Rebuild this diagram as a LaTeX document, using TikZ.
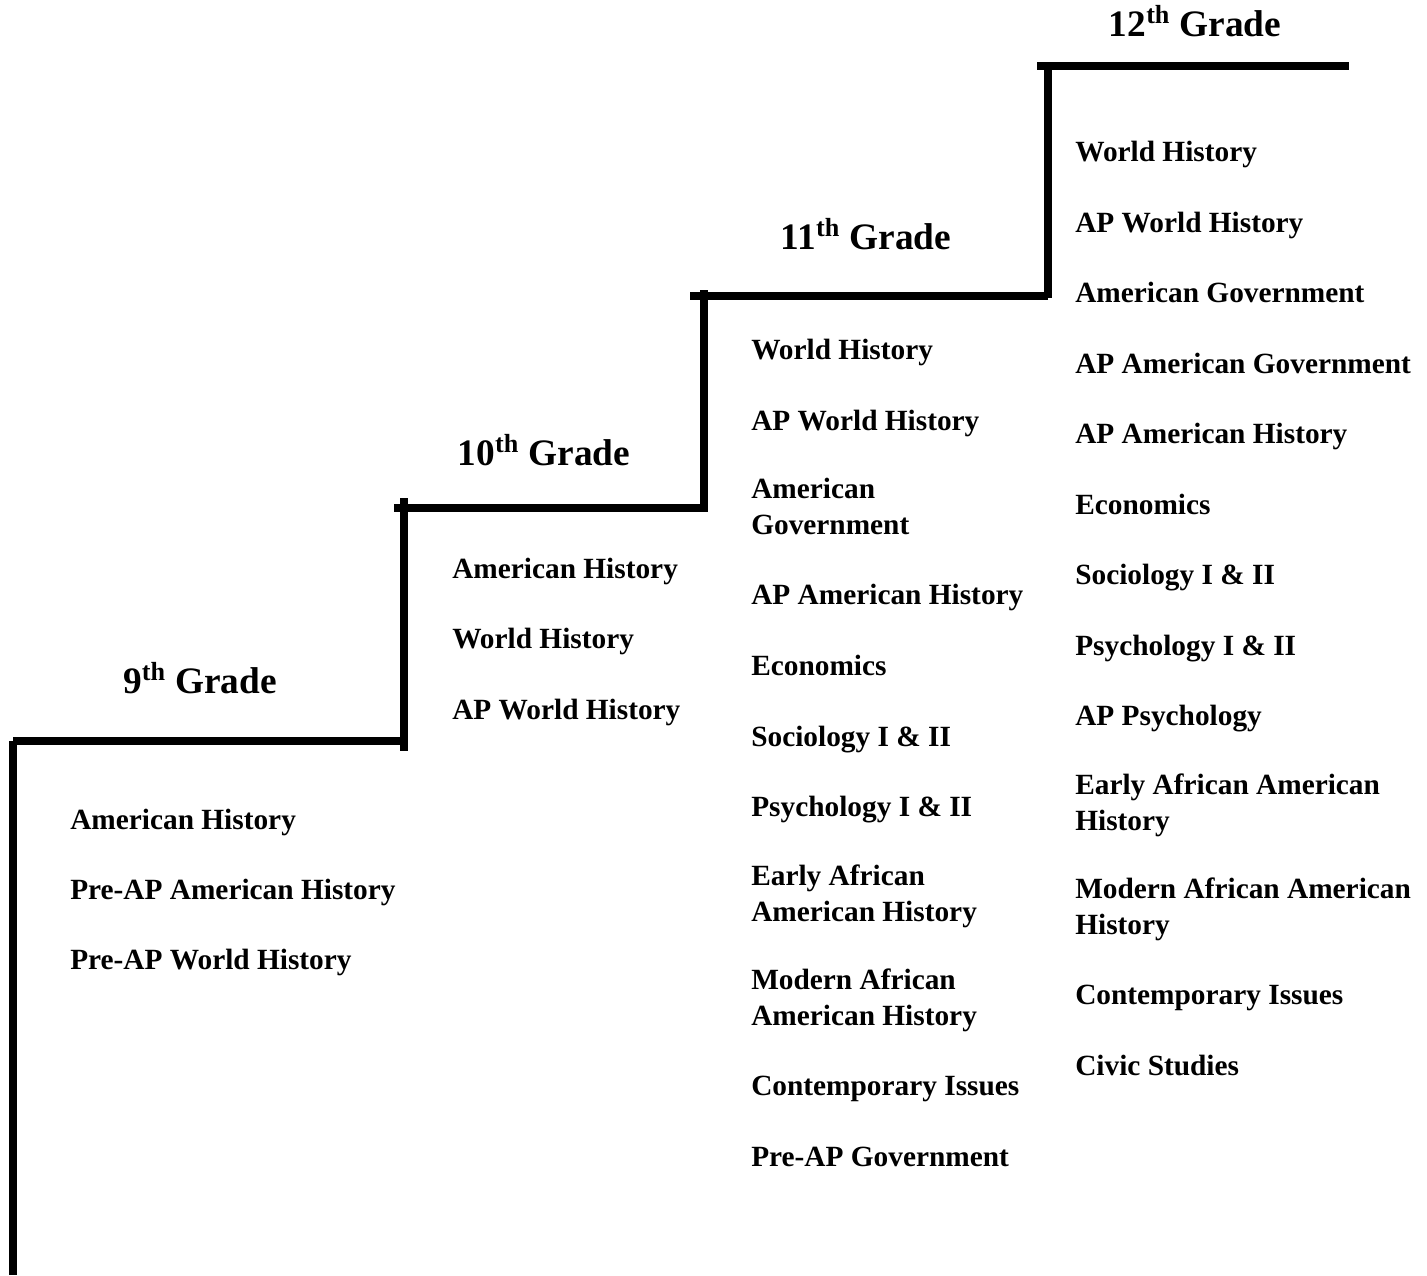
\documentclass[tikz,border=0pt]{standalone}
\usepackage{fontspec}
\setmainfont{Liberation Serif}
\usepackage{tikz}
\usetikzlibrary{positioning}
\definecolor{stGray}{RGB}{0,0,0}
\tikzset{
    base/.style={font=\bfseries, inner sep=0pt, text=stGray},
    grade/.style={base, font=\fontsize{28}{32}\selectfont\bfseries, anchor=base},
    course/.style={base, font=\fontsize{22}{26.3}\selectfont\bfseries, anchor=base west, align=left},
    stair/.style={line width=6pt, color=stGray}
}
\begin{document}
\begin{tikzpicture}[x=0.75pt, y=-0.75pt]
  \useasboundingbox (0,0) rectangle (1427,1275);

  % Staircase
  \draw[stair] (13,741) -- (13,1275);
  \draw[stair] (13,741) -- (404,741);
  \draw[stair] (404,498) -- (404,751);
  \draw[stair] (394,508) -- (704,508);
  \draw[stair] (704,290) -- (704,512);
  \draw[stair] (690,296) -- (1048,296);
  \draw[stair] (1048,68) -- (1048,298);
  \draw[stair] (1037,66) -- (1349,66);

  % 9th grade
  \node[grade] (g9) at (200,693) {9\textsuperscript{th} Grade};
  \node[course] (c9a) at (70,829) {American History};
  \node[course] (c9b) at (70,899) {Pre-AP American History};
  \node[course] (c9c) at (70,969) {Pre-AP World History};

  % 10th grade
  \node[grade] (g10) at (544,465) {10\textsuperscript{th} Grade};
  \node[course] (c10a) at (452,578) {American History};
  \node[course] (c10b) at (452,648) {World History};
  \node[course] (c10c) at (452,719) {AP World History};

  % 11th grade (two-line entries sit on their last line)
  \node[grade] (g11) at (866,249) {11\textsuperscript{th} Grade};
  \node[course] (c11a) at (751,359) {World History};
  \node[course] (c11b) at (751,430) {AP World History};
  \node[course] (c11c) at (751,534) {American\\Government};
  \node[course] (c11d) at (751,604) {AP American History};
  \node[course] (c11e) at (751,675) {Economics};
  \node[course] (c11f) at (751,746) {Sociology I \& II};
  \node[course] (c11g) at (751,816) {Psychology I \& II};
  \node[course] (c11h) at (751,921) {Early African\\American History};
  \node[course] (c11i) at (751,1025) {Modern African\\American History};
  \node[course] (c11j) at (751,1095) {Contemporary Issues};
  \node[course] (c11k) at (751,1166) {Pre-AP Government};

  % 12th grade
  \node[grade] (g12) at (1195,36) {12\textsuperscript{th} Grade};
  \node[course] (c12a) at (1075,161) {World History};
  \node[course] (c12b) at (1075,232) {AP World History};
  \node[course] (c12c) at (1075,302) {American Government};
  \node[course] (c12d) at (1075,373) {AP American Government};
  \node[course] (c12e) at (1075,443) {AP American History};
  \node[course] (c12f) at (1075,514) {Economics};
  \node[course] (c12g) at (1075,584) {Sociology I \& II};
  \node[course] (c12h) at (1075,655) {Psychology I \& II};
  \node[course] (c12i) at (1075,725) {AP Psychology};
  \node[course] (c12j) at (1075,830) {Early African American\\History};
  \node[course] (c12k) at (1075,934) {Modern African American\\History};
  \node[course] (c12l) at (1075,1004) {Contemporary Issues};
  \node[course] (c12m) at (1075,1075) {Civic Studies};
\end{tikzpicture}
\end{document}
